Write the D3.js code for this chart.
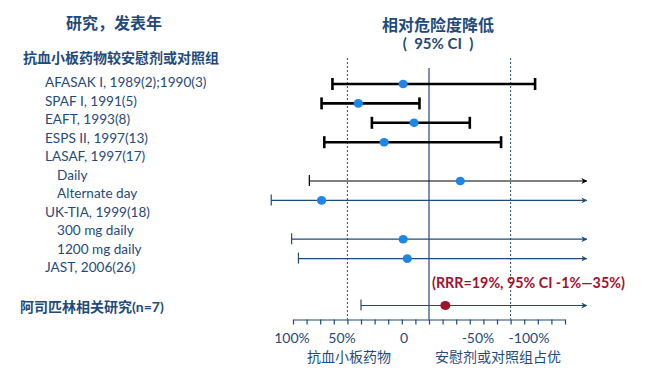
<!DOCTYPE html>
<html>
<head>
<meta charset="utf-8">
<script src="https://cdn.jsdelivr.net/npm/d3@7"></script>
<style>
  body { margin: 0; background: #fff; }
  svg { display: block; font-family: Lato, "Noto Sans CJK SC", sans-serif; }
</style>
</head>
<body>
<svg id="chart"></svg>
<script>
// rows of the forest plot (null = heading without estimate)
const studies = [
  'AFASAK I, 1989(2);1990(3)', 'SPAF I, 1991(5)', 'EAFT, 1993(8)', 'ESPS II, 1997(13)',
  'LASAF, 1997(17)', 'Daily', 'Alternate day', 'UK-TIA, 1999(18)',
  '300 mg daily', '1200 mg daily', 'JAST, 2006(26)'
];
const subRows = ['Daily', 'Alternate day', '300 mg daily', '1200 mg daily'];
const estimate = [19, 52, 11, 33, null, -23, 79, null, 19, 16, null];
const lower = [71, 79, 42, 77, null, 88, 116, null, 101, 96, null];
const upper = [-78, 7, -30, -53, null, -116, -116, null, -116, -116, null];

const pooled = { label: '阿司匹林相关研究(n=7)', est: -12, lo: 50, hi: -116 };
const pooledNote = '(RRR=19%, 95% CI -1%—35%)';

const tickLabels = ['100%', '50%', '0', '-50%', '-100%'];
const tickLabelValues = [100, 50, 0, -50, -100];
const refLines = [60, -60];

const W = 657, H = 391;
const navy = '#1f4a7c', dotBlue = '#1e86e6', darkRed = '#a0112f';

const svg = d3.select('#chart').attr('width', W).attr('height', H);

const x = d3.scaleLinear().domain([100, -100]).range([293, 565]);
// tick labels in the original sit slightly off the tick grid
const xLabel = d3.scaleLinear().domain([100, 50, 0, -50, -100]).range([292, 342, 404, 478, 529]);

const yText = d3.scalePoint().domain(d3.range(studies.length)).range([82, 267]);
const yMark = d3.scalePoint().domain(d3.range(studies.length)).range([84, 278]);
const axisY = 319.5;

// defs: arrow heads
const defs = svg.append('defs');
[['arrBlack', '#000'], ['arrBlue', navy]].forEach(([id, c]) => {
  defs.append('marker')
    .attr('id', id)
    .attr('viewBox', '0 0 10 10')
    .attr('refX', 9).attr('refY', 5)
    .attr('markerWidth', 6).attr('markerHeight', 6)
    .attr('markerUnits', 'userSpaceOnUse')
    .attr('orient', 'auto')
    .append('path')
    .attr('d', 'M0,0 L10,5 L0,10 L3,5 Z')
    .attr('fill', c);
});

// headings
svg.append('text').attr('x', 114).attr('y', 22).attr('text-anchor', 'middle')
  .attr('dominant-baseline', 'central')
  .attr('fill', navy).attr('font-weight', 'bold').attr('font-size', 16)
  .text('研究，发表年');

svg.append('text').attr('x', 23).attr('y', 57).attr('dominant-baseline', 'central')
  .attr('fill', navy).attr('font-weight', 'bold').attr('font-size', 14)
  .text('抗血小板药物较安慰剂或对照组');

svg.append('text').attr('x', 438).attr('y', 24).attr('text-anchor', 'middle')
  .attr('dominant-baseline', 'central')
  .attr('fill', navy).attr('font-weight', 'bold').attr('font-size', 16)
  .text('相对危险度降低');

svg.append('text').attr('x', 438).attr('y', 43).attr('text-anchor', 'middle')
  .attr('dominant-baseline', 'central')
  .attr('fill', navy).attr('font-weight', 'bold').attr('font-size', 15)
  .attr('xml:space', 'preserve')
  .text('(  95% CI  )');

// study labels
svg.append('g').selectAll('text')
  .data(studies)
  .join('text')
  .attr('x', d => subRows.includes(d) ? 57 : 45)
  .attr('y', (d, i) => yText(i))
  .attr('dominant-baseline', 'central')
  .attr('fill', navy).attr('font-size', 13.6)
  .text(d => d);

svg.append('text').attr('x', 20).attr('y', 306).attr('dominant-baseline', 'central')
  .attr('fill', navy).attr('font-weight', 'bold').attr('font-size', 14)
  .text(pooled.label);

// reference lines
svg.append('g').selectAll('line')
  .data(refLines)
  .join('line')
  .attr('x1', d => x(d)).attr('x2', d => x(d))
  .attr('y1', 58).attr('y2', axisY)
  .attr('stroke', navy).attr('stroke-width', 1)
  .attr('stroke-dasharray', '2,2');

svg.append('line')
  .attr('x1', x(0)).attr('x2', x(0))
  .attr('y1', 68).attr('y2', axisY)
  .attr('stroke', navy).attr('stroke-width', 1.2);

// axis
const axis = svg.append('g')
  .attr('transform', `translate(0,${axisY})`)
  .call(d3.axisBottom(x)
    .tickValues(d3.range(100, -101, -10))
    .tickSize(5).tickSizeOuter(0)
    .tickFormat(''));
axis.selectAll('path, line').attr('stroke', navy).attr('stroke-width', 1.2);

svg.append('g').selectAll('text')
  .data(tickLabels)
  .join('text')
  .attr('x', (d, i) => xLabel(tickLabelValues[i]))
  .attr('y', 337)
  .attr('text-anchor', 'middle').attr('dominant-baseline', 'central')
  .attr('fill', navy).attr('font-size', 14)
  .text(d => d);

svg.append('text').attr('x', 349).attr('y', 356).attr('text-anchor', 'middle')
  .attr('dominant-baseline', 'central').attr('fill', navy).attr('font-size', 14)
  .text('抗血小板药物');
svg.append('text').attr('x', 498).attr('y', 356).attr('text-anchor', 'middle')
  .attr('dominant-baseline', 'central').attr('fill', navy).attr('font-size', 14)
  .text('安慰剂或对照组占优');

// confidence intervals
const rows = studies.map((s, i) => ({ s, i, est: estimate[i], lo: lower[i], hi: upper[i] }))
  .filter(d => d.est !== null);

const ci = svg.append('g');
rows.forEach(d => {
  const y = yMark(d.i);
  const open = d.hi < -100;
  if (!open) {
    ci.append('line').attr('x1', x(d.lo)).attr('x2', x(d.hi)).attr('y1', y).attr('y2', y)
      .attr('stroke', '#000').attr('stroke-width', 2.6);
    [d.lo, d.hi].forEach(v => {
      ci.append('line').attr('x1', x(v)).attr('x2', x(v)).attr('y1', y - 6).attr('y2', y + 6)
        .attr('stroke', '#000').attr('stroke-width', 2.6);
    });
  } else {
    const c = d.s === 'Daily' ? '#000' : navy;
    ci.append('line').attr('x1', x(d.lo)).attr('x2', x(d.hi)).attr('y1', y).attr('y2', y)
      .attr('stroke', c).attr('stroke-width', 1.2)
      .attr('marker-end', `url(#${c === '#000' ? 'arrBlack' : 'arrBlue'})`);
    ci.append('line').attr('x1', x(d.lo)).attr('x2', x(d.lo)).attr('y1', y - 6).attr('y2', y + 5)
      .attr('stroke', c).attr('stroke-width', 1.2);
  }
  ci.append('ellipse').attr('cx', x(d.est)).attr('cy', y).attr('rx', 4.6).attr('ry', 4.3)
    .attr('fill', dotBlue);
});

// pooled estimate
const py = 305.5;
svg.append('line').attr('x1', x(pooled.lo)).attr('x2', x(pooled.hi)).attr('y1', py).attr('y2', py)
  .attr('stroke', navy).attr('stroke-width', 1.2).attr('marker-end', 'url(#arrBlue)');
svg.append('line').attr('x1', x(pooled.lo)).attr('x2', x(pooled.lo)).attr('y1', py - 6).attr('y2', py + 5)
  .attr('stroke', navy).attr('stroke-width', 1.2);
svg.append('ellipse').attr('cx', x(pooled.est)).attr('cy', py).attr('rx', 5).attr('ry', 4.6)
  .attr('fill', darkRed);

svg.append('text').attr('x', 432).attr('y', 282).attr('dominant-baseline', 'central')
  .attr('fill', darkRed).attr('font-weight', 'bold').attr('font-size', 14.3)
  .text(pooledNote);
</script>
</body>
</html>
